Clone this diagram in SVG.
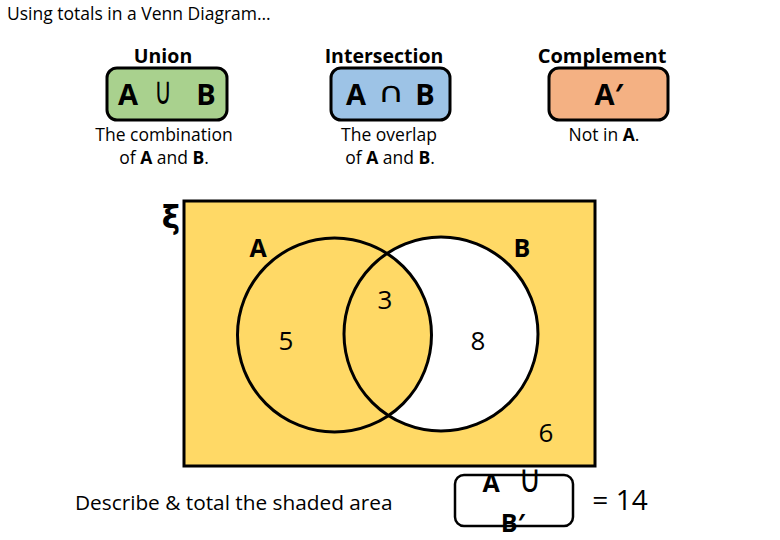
<svg xmlns="http://www.w3.org/2000/svg" width="780" height="540" viewBox="0 0 780 540">
<style>
text{font-family:"Open Sans","Liberation Sans",sans-serif;fill:#000}
.hd{font-size:19.5px;font-weight:bold;text-anchor:middle}
.sym{font-size:29px;font-weight:bold;text-anchor:middle}
.op{font-family:"DejaVu Sans",sans-serif;font-size:33px;font-weight:normal;text-anchor:middle}
.ds{font-size:17.5px;text-anchor:middle}
.box{stroke:#000;stroke-width:3}
.num{font-size:26px;text-anchor:middle}
.lbl{font-size:25px;font-weight:bold;text-anchor:middle}
</style>
<rect width="780" height="540" fill="#fff"/>
<text x="7" y="20" style="font-size:17.5px">Using totals in a Venn Diagram…</text>

<g id="union">
<text class="hd" x="163" y="63">Union</text>
<rect class="box" x="107" y="68" width="120" height="52" rx="10" fill="#a9d18e"/>
<text class="sym" x="128" y="105">A</text>
<text class="op" style="font-size:30px" transform="translate(163,104) scale(0.8,1.28)">∪</text>
<text class="sym" x="206" y="105">B</text>
<text class="ds" x="164" y="141">The combination</text>
<text class="ds" x="164" y="164">of <tspan font-weight="bold">A</tspan> and <tspan font-weight="bold">B</tspan>.</text>
</g>

<g id="intersection">
<text class="hd" x="384" y="63">Intersection</text>
<rect class="box" x="331" y="68" width="119" height="52" rx="10" fill="#9dc3e6"/>
<text class="sym" x="356" y="105">A</text>
<text class="op" transform="translate(391,102) scale(1.1,0.85)">∩</text>
<text class="sym" x="425" y="105">B</text>
<text class="ds" x="389" y="141">The overlap</text>
<text class="ds" x="390" y="164">of <tspan font-weight="bold">A</tspan> and <tspan font-weight="bold">B</tspan>.</text>
</g>

<g id="complement">
<text class="hd" x="602" y="63" style="font-size:20px">Complement</text>
<rect class="box" x="549" y="68" width="119" height="52" rx="10" fill="#f4b183"/>
<text class="sym" x="609" y="105">A′</text>
<text class="ds" x="604" y="141">Not in <tspan font-weight="bold">A</tspan>.</text>
</g>

<g id="venn">
<rect x="184" y="201" width="411" height="265" fill="#ffd966" stroke="#000" stroke-width="3"/>
<circle cx="441" cy="334" r="97" fill="#fff"/>
<path d="M388 253 A97 97 0 0 1 388 415 A97 97 0 0 1 388 253 Z" fill="#ffd966"/>
<circle cx="334.5" cy="335" r="97" fill="none" stroke="#000" stroke-width="3"/>
<circle cx="441" cy="334" r="97" fill="none" stroke="#000" stroke-width="3"/>
<text x="171" y="228" style="font-family:'DejaVu Sans',sans-serif;font-size:31px;font-weight:bold;text-anchor:middle">ξ</text>
<text class="lbl" x="258" y="257">A</text>
<text class="lbl" x="522" y="257">B</text>
<text class="num" x="385" y="309">3</text>
<text class="num" x="286" y="350">5</text>
<text class="num" x="478" y="350">8</text>
<text class="num" x="546" y="442">6</text>
</g>

<g id="answer">
<text x="75" y="510" style="font-size:20.8px">Describe &amp; total the shaded area</text>
<rect x="455" y="475" width="118" height="51" rx="9" fill="#fff" stroke="#000" stroke-width="2.5"/>
<text x="491" y="492" style="font-size:25px;font-weight:bold;text-anchor:middle">A</text>
<text transform="translate(530,492) scale(1.05,1.3)" style="font-family:'DejaVu Sans',sans-serif;font-size:30px;text-anchor:middle">∪</text>
<text x="513" y="532" style="font-size:25px;font-weight:bold;text-anchor:middle">B′</text>
<text x="620" y="510" style="font-size:28px;text-anchor:middle">= 14</text>
</g>
</svg>
